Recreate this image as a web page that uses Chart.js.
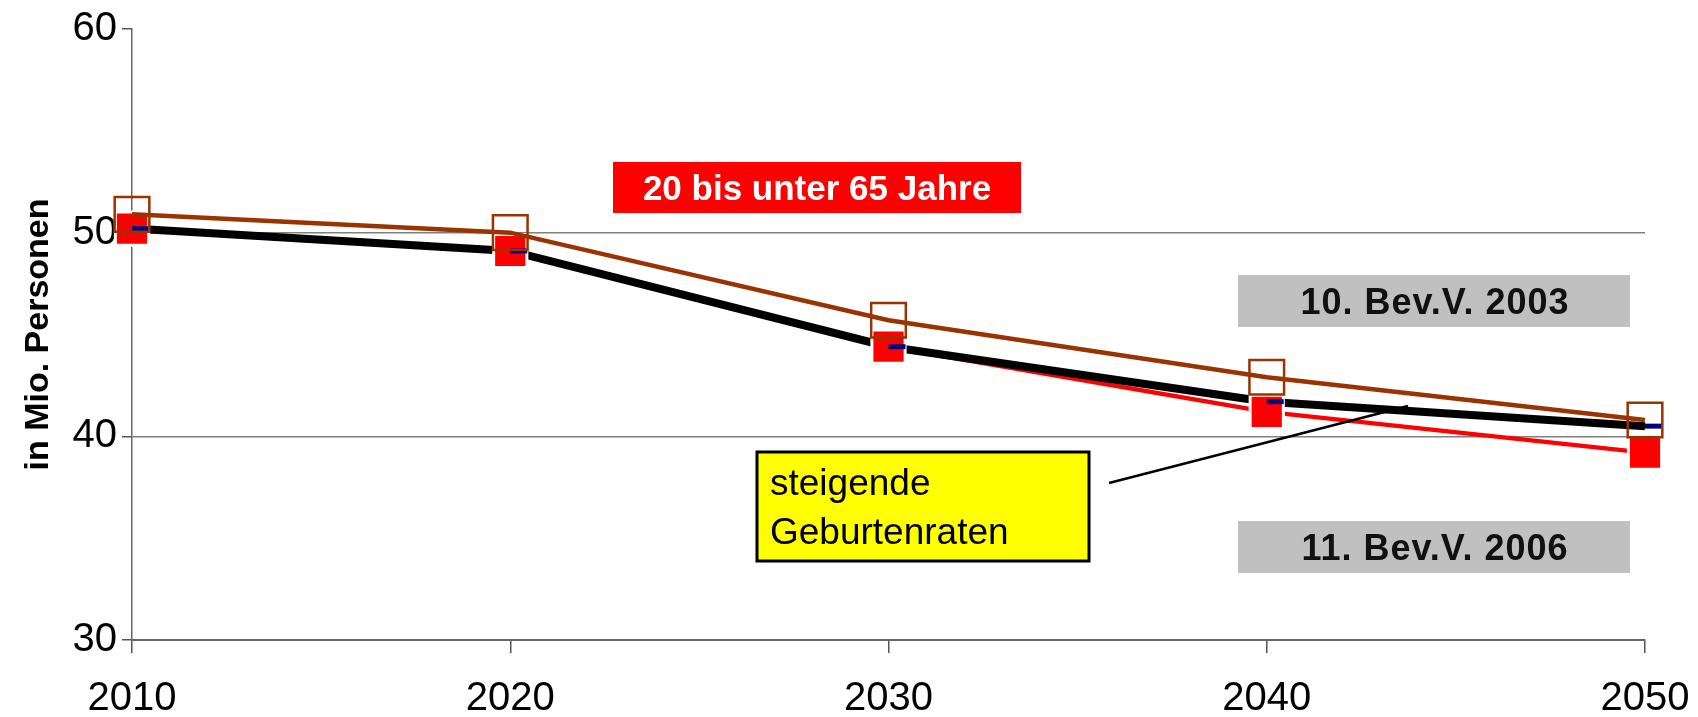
<!DOCTYPE html>
<html>
<head>
<meta charset="utf-8">
<script src="https://cdn.jsdelivr.net/npm/chart.js@4.4.0/dist/chart.umd.min.js"></script>
<style>
	html, body { margin: 0; padding: 0; background: #fff; }
	#wrap { width: 1698px; height: 717px; }
</style>
</head>
<body>
<div id="wrap"><canvas id="lineChart"></canvas></div>
<script>
// values in millions
const years = ['2010', '2020', '2030', '2040', '2050'];
const bev2003 = [50.9, 50.0, 45.7, 42.9, 40.8];
const bev2006 = [50.2, 49.1, 44.4, 41.2, 39.2];
const steigend = [50.2, 49.1, 44.4, 41.7, 40.5];
const yTicks = [30, 40, 50, 60];

const FONT = "'Liberation Sans', Arial, sans-serif";
const ctx = document.querySelector('#lineChart');

// text boxes drawn on top of the lines
const boxes = {
	id: 'boxes',
	afterDatasetsDraw(chart) {
		const c = chart.ctx;
		c.save();

		c.fillStyle = '#FF0000';
		c.fillRect(613, 162, 408, 51);
		c.fillStyle = '#fff';
		c.font = 'bold 35px ' + FONT;
		c.textAlign = 'center';
		c.textBaseline = 'alphabetic';
		c.fillText('20 bis unter 65 Jahre', 817, 200);

		c.fillStyle = '#C0C0C0';
		c.fillRect(1238, 275, 392, 52);
		c.fillRect(1238, 521, 392, 52);
		c.fillStyle = '#111';
		c.font = 'bold 36px ' + FONT;
		c.letterSpacing = '1px';
		c.fillText('10. Bev.V. 2003', 1435, 314);
		c.fillText('11. Bev.V. 2006', 1435, 560);
		c.letterSpacing = '0px';

		c.fillStyle = '#FFFF00';
		c.fillRect(757, 452, 332, 109);
		c.strokeStyle = '#000';
		c.lineWidth = 3;
		c.strokeRect(757, 452, 332, 109);
		c.fillStyle = '#000';
		c.font = '37px ' + FONT;
		c.textAlign = 'left';
		c.fillText('steigende', 770, 495);
		c.fillText('Geburtenraten', 770, 544);

		c.beginPath();
		c.moveTo(1109, 483);
		c.lineTo(1408, 406);
		c.lineWidth = 2.5;
		c.stroke();

		c.restore();
	},
};

const myChart = new Chart(ctx, {
	type: 'line',
	data: {
		labels: years,
		datasets: [
			{
				label: '11. Bev.V. 2006',
				data: bev2006,
				borderColor: '#FF0000',
				borderWidth: 4.5,
				pointRadius: 0,
				clip: false,
				order: 5,
			},
			{
				label: 'steigende Geburtenraten',
				data: steigend,
				borderColor: '#000',
				borderWidth: 8,
				pointRadius: 0,
				clip: false,
				order: 4,
			},
			{
				label: '11. Bev.V. 2006 (Punkte)',
				data: bev2006,
				showLine: false,
				pointStyle: 'rect',
				pointRadius: 23.5,
				pointBackgroundColor: '#FF0000',
				pointBorderColor: '#fff',
				pointBorderWidth: 3,
				clip: false,
				order: 3,
			},
			{
				label: 'steigende Geburtenraten (Punkte)',
				data: steigend,
				showLine: false,
				pointStyle: 'dash',
				pointRadius: 17,
				pointBorderColor: '#000080',
				pointBorderWidth: 5,
				clip: false,
				order: 2,
			},
			{
				label: '10. Bev.V. 2003',
				data: bev2003,
				borderColor: '#993300',
				borderWidth: 4.5,
				pointStyle: 'rect',
				pointRadius: 24.5,
				pointBackgroundColor: 'rgba(0,0,0,0)',
				pointBorderColor: '#993300',
				pointBorderWidth: 2.5,
				clip: false,
				order: 1,
			},
		],
	},
	options: {
		responsive: true,
		maintainAspectRatio: false,
		devicePixelRatio: 1,
		animation: false,
		events: [],
		layout: { padding: { top: 24, right: 53, left: 0, bottom: 0 } },
		plugins: {
			legend: { display: false },
			tooltip: { enabled: false },
		},
		scales: {
			x: {
				offset: false,
				grid: { drawOnChartArea: false, tickLength: 13, tickColor: '#555', lineWidth: 1.5 },
				border: { color: '#666', width: 2 },
				ticks: { color: '#000', font: { family: FONT, size: 40 }, padding: 22, maxRotation: 0, autoSkip: false },
				afterFit: s => {
					s.height = 77;
					s.paddingLeft = 0;
					s.paddingRight = 0;
				},
			},
			y: {
				min: 30,
				max: 60,
				afterBuildTicks: s => { s.ticks = yTicks.map(v => ({ value: v })); },
				grid: {
					color: c => (c.tick && (c.tick.value === 40 || c.tick.value === 50)) ? '#808080' : 'rgba(0,0,0,0)',
					tickColor: '#555',
					tickLength: 10,
					lineWidth: 1.5,
				},
				border: { color: '#666', width: 1.5 },
				ticks: { color: '#000', font: { family: FONT, size: 40 }, padding: 5 },
				title: {
					display: true,
					text: 'in Mio. Personen',
					color: '#000',
					font: { family: FONT, size: 34, weight: 'bold' },
					padding: { top: 18, bottom: 0 },
				},
				afterFit: s => { s.width = 132; },
			},
		},
	},
	plugins: [boxes],
});
</script>
</body>
</html>
